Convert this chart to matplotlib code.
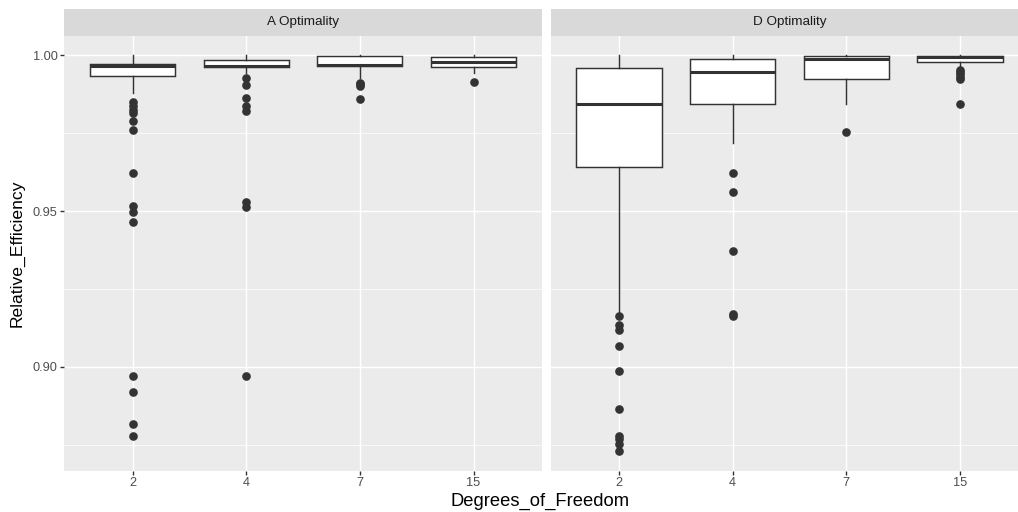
import matplotlib
matplotlib.use("Agg")
import matplotlib.pyplot as plt

# ---------------- data ----------------
facets = ["A Optimality", "D Optimality"]
dof_labels = ["2", "4", "7", "15"]

# A Optimality box statistics per degrees of freedom
a_whislo = [0.9880, 0.9945, 0.9927, 0.9945]
a_q1 = [0.99325, 0.9963, 0.9965, 0.9964]
a_med = [0.9966, 0.99655, 0.9968, 0.9979]
a_q3 = [0.9973, 0.9984, 0.99985, 0.9994]
a_whishi = [1.0, 1.0, 1.0, 1.0]
a_out_2 = [0.9851, 0.9839, 0.9825, 0.9816, 0.9790, 0.9760, 0.9624, 0.9516,
           0.9498, 0.9464, 0.8970, 0.8919, 0.8815, 0.8776]
a_out_4 = [0.9929, 0.9906, 0.9864, 0.9839, 0.9822, 0.9528, 0.9514, 0.8970]
a_out_7 = [0.9912, 0.9907, 0.9902, 0.9859]
a_out_15 = [0.9916]

# D Optimality box statistics per degrees of freedom
d_whislo = [0.9170, 0.9718, 0.9843, 0.9959]
d_q1 = [0.96425, 0.9843, 0.99244, 0.9980]
d_med = [0.98431, 0.9946, 0.9989, 0.9996]
d_q3 = [0.99588, 0.9988, 0.99984, 0.99995]
d_whishi = [1.0, 1.0, 1.0, 1.0]
d_out_2 = [0.91633, 0.91357, 0.91196, 0.90682, 0.89855, 0.88643, 0.87765,
           0.87691, 0.87508, 0.87293]
d_out_4 = [0.9624, 0.9561, 0.9372, 0.9168, 0.9163]
d_out_7 = [0.9753]
d_out_15 = [0.9953, 0.9947, 0.9940, 0.9932, 0.9924, 0.9843]

y_major = [0.90, 0.95, 1.00]
y_major_labels = ["0.90", "0.95", "1.00"]
y_minor = [0.875, 0.925, 0.975]

x_title = "Degrees_of_Freedom"
y_title = "Relative_Efficiency"

# ---------------- style ----------------
W, H = 1018, 512
FONT = ["Liberation Sans", "DejaVu Sans"]
plt.rcParams["font.family"] = FONT
PANEL_BG = "#EBEBEB"
STRIP_BG = "#D9D9D9"
INK = "#333333"
TICK_TXT = "#4D4D4D"


def stats_for(whislo, q1, med, q3, whishi, outs):
    res = []
    for i in range(len(dof_labels)):
        res.append(dict(whislo=whislo[i], q1=q1[i], med=med[i], q3=q3[i],
                        whishi=whishi[i], fliers=outs[i], label=dof_labels[i]))
    return res


panel_stats = [
    stats_for(a_whislo, a_q1, a_med, a_q3, a_whishi,
              [a_out_2, a_out_4, a_out_7, a_out_15]),
    stats_for(d_whislo, d_q1, d_med, d_q3, d_whishi,
              [d_out_2, d_out_4, d_out_7, d_out_15]),
]

# y range: data range with 5% expansion (ggplot default)
all_vals = []
for st in panel_stats:
    for s in st:
        all_vals += [s["whislo"], s["whishi"]] + list(s["fliers"])
lo, hi = min(all_vals), max(all_vals)
pad = 0.05 * (hi - lo)
ylim = (lo - pad, hi + pad)

fig = plt.figure(figsize=(W / 100, H / 100), dpi=100)
fig.patch.set_facecolor("white")


def px_axes(left, top, right, bottom):
    return fig.add_axes([left / W, 1 - bottom / H, (right - left) / W, (bottom - top) / H])


panel_left = [64.3, 550.7]
panel_w = 477.4
panel_top, panel_bottom = 35.7, 470.8
strip_top = 9.3

positions = list(range(1, len(dof_labels) + 1))

for k, (name, st) in enumerate(zip(facets, panel_stats)):
    l = panel_left[k]
    r = l + panel_w
    ax = px_axes(l, panel_top, r, panel_bottom)
    ax.set_facecolor(PANEL_BG)
    ax.set_axisbelow(True)
    for sp in ax.spines.values():
        sp.set_visible(False)

    ax.bxp(st, positions=positions, widths=0.75, patch_artist=True,
           showcaps=False, showfliers=True,
           boxprops=dict(facecolor="white", edgecolor=INK, linewidth=1.05),
           medianprops=dict(color=INK, linewidth=2.2, solid_capstyle="butt"),
           whiskerprops=dict(color=INK, linewidth=1.05),
           flierprops=dict(marker="o", markerfacecolor=INK, markeredgecolor=INK,
                           markersize=5.2, linestyle="none"))

    ax.set_xlim(0.4, len(dof_labels) + 0.6)
    ax.set_ylim(*ylim)
    ax.set_xticks(positions)
    ax.set_xticklabels(dof_labels)
    ax.set_yticks(y_major)
    ax.set_yticks(y_minor, minor=True)
    ax.grid(True, which="major", color="white", linewidth=1.05)
    ax.grid(True, which="minor", axis="y", color="white", linewidth=0.53)
    ax.tick_params(axis="both", which="major", length=2.7, width=1.0, color=INK,
                   labelsize=9.2, labelcolor=TICK_TXT, pad=2.1)
    ax.tick_params(axis="y", which="minor", length=0)
    if k == 0:
        ax.set_yticklabels(y_major_labels)
    else:
        ax.tick_params(axis="y", which="major", length=0, labelleft=False)

    sax = px_axes(l, strip_top, r, panel_top)
    sax.set_facecolor(STRIP_BG)
    sax.set_xticks([])
    sax.set_yticks([])
    for sp in sax.spines.values():
        sp.set_visible(False)
    sax.text(0.5, 0.5, name, ha="center", va="center", fontsize=9.7,
             color="#1A1A1A", transform=sax.transAxes)

fig.text(540 / W, 1 - 501 / H, x_title, ha="center", va="center", fontsize=13.2, color="black")
fig.text(17 / W, 1 - 253 / H, y_title, ha="center", va="center", rotation=90,
         fontsize=12.6, color="black")

fig.savefig("out.png", dpi=100, facecolor="white")
